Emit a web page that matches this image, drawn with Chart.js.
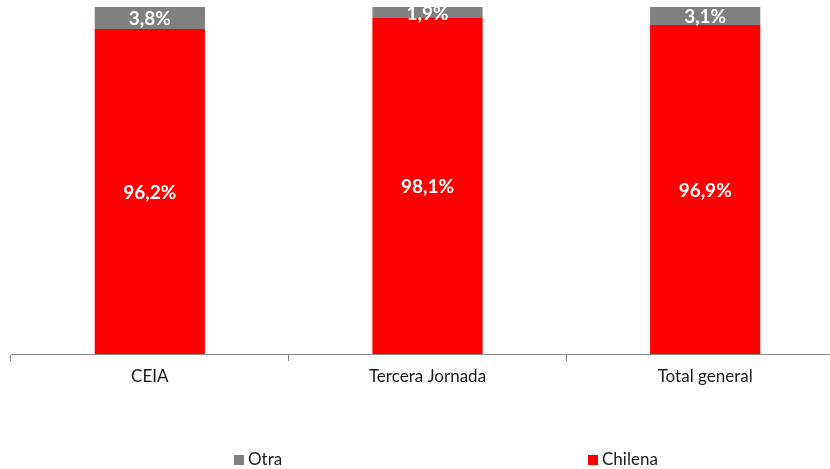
<!DOCTYPE html>
<html>
<head>
<meta charset="utf-8">
<script src="https://cdn.jsdelivr.net/npm/chart.js@4.4.1/dist/chart.umd.min.js"></script>
<style>
  html, body { margin: 0; padding: 0; background: #fff; overflow: hidden; }
  #wrap { width: 830px; height: 469px; overflow: hidden; }
</style>
</head>
<body>
<div id="wrap"><canvas id="chartBar" width="850" height="469"></canvas></div>
<script>
const categories = ['CEIA', 'Tercera Jornada', 'Total general'];
const chilena = [96.2, 98.1, 96.9];
const otra = [3.8, 1.9, 3.1];

const FONT = 'Lato, "Open Sans", sans-serif';

// percentage labels centred on the visible part of each segment
const segmentLabels = {
  id: 'segmentLabels',
  afterDatasetsDraw(chart) {
    const ctx = chart.ctx;
    const area = chart.chartArea;
    ctx.save();
    ctx.fillStyle = '#ffffff';
    ctx.font = 'bold 19px ' + FONT;
    ctx.textAlign = 'center';
    ctx.textBaseline = 'middle';
    chart.data.datasets.forEach((ds, i) => {
      chart.getDatasetMeta(i).data.forEach((bar, j) => {
        const top = Math.max(Math.min(bar.y, bar.base), area.top);
        const bottom = Math.min(Math.max(bar.y, bar.base), area.bottom);
        const label = ds.data[j].toFixed(1).replace('.', ',') + '%';
        ctx.fillText(label, bar.x, (top + bottom) / 2 + 1);
      });
    });
    ctx.restore();
  }
};

// legend row spread across the bottom, Otra first
const legendRow = {
  id: 'legendRow',
  afterDraw(chart) {
    const ctx = chart.ctx;
    const slots = [{ ds: 1, x: 234 }, { ds: 0, x: 588 }];
    const y = 460;
    ctx.save();
    ctx.font = '17px ' + FONT;
    ctx.textBaseline = 'middle';
    slots.forEach(s => {
      const ds = chart.data.datasets[s.ds];
      ctx.fillStyle = ds.backgroundColor;
      ctx.fillRect(s.x, y - 5, 10, 10);
      ctx.fillStyle = '#1a1a1a';
      ctx.fillText(ds.label, s.x + 14, y);
    });
    ctx.restore();
  }
};

new Chart(document.getElementById('chartBar'), {
  type: 'bar',
  data: {
    labels: categories,
    datasets: [
      {
        label: 'Chilena',
        data: chilena,
        backgroundColor: '#ff0000',
        borderWidth: 0,
        barPercentage: 0.397,
        categoryPercentage: 1
      },
      {
        label: 'Otra',
        data: otra,
        backgroundColor: '#808080',
        borderWidth: 0,
        barPercentage: 0.397,
        categoryPercentage: 1
      }
    ]
  },
  options: {
    responsive: false,
    animation: false,
    layout: { padding: { left: 11, right: 6, top: 7, bottom: 0 } },
    plugins: {
      legend: { display: false },
      tooltip: { enabled: false }
    },
    scales: {
      x: {
        stacked: true,
        afterFit(scale) { scale.height = 115; },
        border: { display: true, color: '#868686', width: 1 },
        grid: {
          display: true,
          drawOnChartArea: false,
          drawTicks: true,
          tickLength: 7,
          color: '#868686',
          offset: true
        },
        ticks: {
          color: '#1a1a1a',
          font: { family: FONT, size: 17 },
          padding: 5,
          maxRotation: 0
        }
      },
      y: {
        stacked: true,
        display: false,
        min: 40,
        max: 100
      }
    }
  },
  plugins: [segmentLabels, legendRow]
});
</script>
</body>
</html>
